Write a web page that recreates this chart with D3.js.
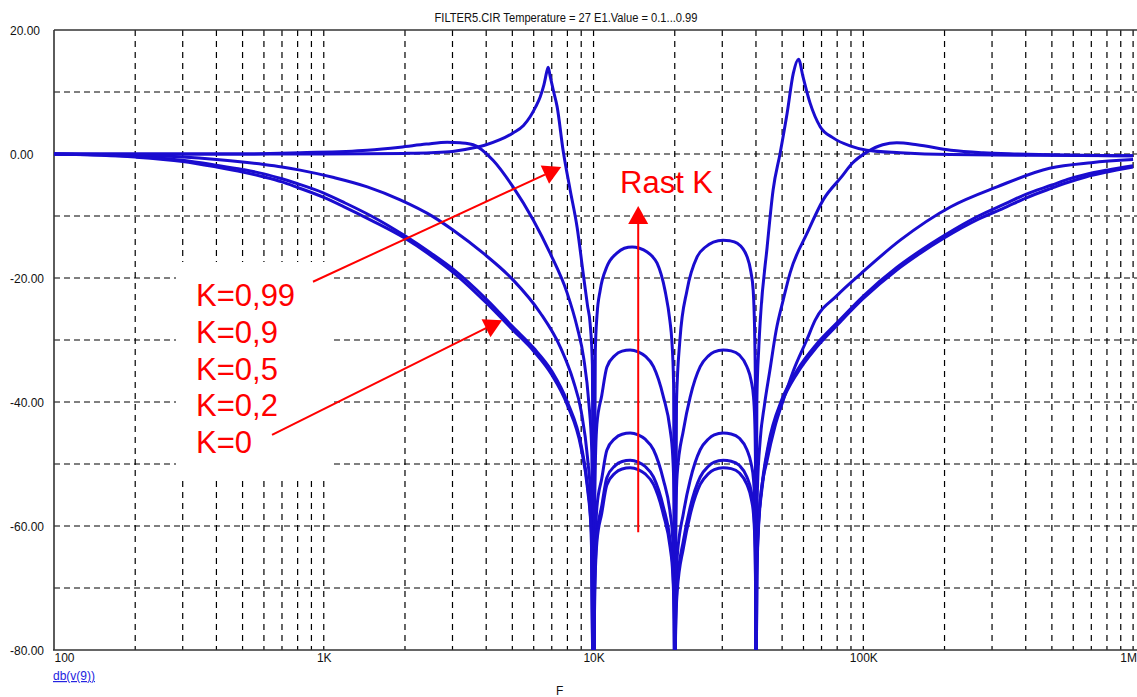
<!DOCTYPE html>
<html><head><meta charset="utf-8">
<script src="https://cdn.jsdelivr.net/npm/d3@7"></script>
<style>
body{margin:0;background:#fff}
svg{display:block}
text{font-family:"Liberation Sans",Arial,sans-serif}
</style>
</head><body>
<svg id="chart" width="1137" height="697"></svg>
<script>
// ---------------- data ----------------
const titleText = "FILTER5.CIR Temperature = 27 E1.Value = 0.1...0.99";
const yTicks = [20, 0, -20, -40, -60, -80];
const yTickLabels = ["20.00", "0.00", "-20.00", "-40.00", "-60.00", "-80.00"];
const xTicks = [100, 1e3, 1e4, 1e5, 1e6];
const xTickLabels = ["100", "1K", "10K", "100K", "1M"];
const seriesNames = ["K=0,99", "K=0,9", "K=0,5", "K=0,2", "K=0"];
const yAxisName = "db(v(9))";
const xAxisName = "F";
const arrowText = "Rast K";

// [frequency Hz, dB]
const k099 = [[100,0],[300,0],[1000,0],[2000,0.1],[2500,0.2],[3000,0.4],[3600,1.0],[4000,1.5],[4500,2.3],[5030,3.4],[5500,4.6],[5820,6.0],[6100,7.6],[6340,9.2],[6550,11.2],[6730,13.5],[6790,14.0],[6900,12.6],[7100,10.2],[7330,7.6],[7710,0.6],[8190,-5.8],[8690,-11.8],[9150,-19.2],[9500,-24.5],[9710,-27.3],[9900,-34],[10000,-90],
  [10150,-32],[10300,-26],[10580,-22],[11200,-18.2],[12200,-16],[13000,-15.2],[13900,-15],[14800,-15.2],[15800,-15.8],[16500,-16.5],[17200,-17.6],[18400,-22],[19200,-27],[19500,-30],[19800,-37],[20000,-90],
  [20300,-40],[20900,-30],[22200,-22],[24200,-16.6],[26000,-15],[27800,-14.2],[30200,-13.9],[32000,-14.0],[34100,-14.4],[37100,-16.6],[38300,-19],[39060,-22],[39600,-30],[39850,-40],[40000,-90],
  [40300,-40],[41000,-31],[41500,-26.8],[44000,-15],[46300,-5.8],[49200,0.2],[52200,6.6],[55000,13],[57500,15.3],[59800,12.4],[63500,8.2],[69200,4.4],[77300,2.6],[89300,1.3],[103000,0.6],[137000,0.2],[210000,-0.1],[400000,-0.2],[1000000,-0.3]];

const k09 = [[100,0],[500,0],[817,0.2],[1450,0.6],[1920,1.1],[2400,1.6],[2870,1.9],[3200,1.8],[3580,1.5],[4240,-1],[5030,-5.3],[5970,-10.6],[6900,-16],[7980,-22.4],[8690,-27.9],[9200,-33],[9600,-40],[9850,-48],[10000,-90],
  [10100,-55],[10290,-43.6],[10730,-38.9],[11200,-34.4],[12000,-32.5],[12760,-31.8],[13670,-31.6],[14640,-31.9],[15540,-32.6],[16680,-34.3],[18160,-39.2],[19230,-44.5],[19650,-48.6],[19900,-56],[20000,-90],
  [20150,-60],[20420,-51.6],[21540,-44.5],[22810,-39.2],[24850,-34.3],[26600,-32.6],[28010,-31.9],[30230,-31.6],[32370,-31.75],[34650,-32.4],[37030,-34.3],[38410,-36.6],[39180,-39.2],[39680,-44.6],[39900,-55],[40000,-90],
  [40200,-62],[40500,-54],[41500,-46],[43000,-40.5],[45000,-35],[47500,-28.5],[50500,-23.5],[53500,-19.2],[62000,-12.7],[71000,-7.4],[83000,-3.7],[91000,-1.5],[103000,0.3],[118000,1.5],[133000,1.8],[158000,1.5],[211000,0.6],[278000,0.2],[373000,0],[1000000,-0.3]];

const k05 = [[100,0],[200,-0.2],[300,-0.5],[400,-0.9],[500,-1.3],[600,-1.7],[700,-2.1],[817,-2.6],[1090,-3.8],[1450,-5.3],[1920,-7.4],[2540,-10.1],[3020,-12.3],[3900,-16],[5030,-20.3],[6340,-25.6],[7520,-31.1],[8400,-36.5],[9000,-41.5],[9500,-49],[9800,-57],[10000,-90],
  [10100,-66],[10290,-57],[10730,-52.3],[11200,-47.8],[12000,-45.9],[12760,-45.2],[13670,-45],[14640,-45.3],[15540,-46],[16680,-47.7],[18160,-52.6],[19230,-57.9],[19650,-62],[19900,-70],[20000,-90],
  [20150,-72],[20420,-65],[21540,-57.9],[22810,-52.6],[24850,-47.7],[26600,-46],[28010,-45.3],[30230,-45],[32370,-45.15],[34650,-45.8],[37030,-47.7],[38410,-50],[39180,-52.6],[39680,-58],[39900,-68],[40000,-90],
  [40300,-66],[40800,-60],[41500,-55.8],[44000,-49.4],[47000,-44],[50500,-39.7],[55000,-35],[61700,-30],[66300,-26.8],[80000,-22.8],[98500,-19.2],[137000,-13.9],[211000,-8.5],[313000,-5.3],[490000,-2.3],[700000,-1.4],[1000000,-0.9]];

const k02 = [[100,0],[200,-0.4],[300,-1.0],[400,-1.8],[500,-2.5],[600,-3.2],[700,-4.0],[800,-4.8],[1000,-6.3],[1200,-7.9],[1500,-10.0],[2000,-13.2],[2500,-16.0],[3000,-18.5],[4000,-23.4],[5000,-27.8],[6000,-31.3],[7000,-35],[8000,-40],[9000,-47],[9500,-53.5],[9800,-60.5],[10000,-90],
  [10100,-70],[10290,-61.4],[10730,-56.7],[11200,-52.2],[12000,-50.3],[12760,-49.6],[13670,-49.4],[14640,-49.7],[15540,-50.4],[16680,-52.1],[18160,-57],[19230,-62.3],[19650,-66.4],[19900,-74],[20000,-90],
  [20150,-76],[20420,-69.4],[21540,-62.3],[22810,-57],[24850,-52.1],[26600,-50.4],[28010,-49.7],[30230,-49.4],[32370,-49.55],[34650,-50.2],[37030,-52.1],[38410,-54.4],[39180,-57],[39680,-62.4],[39900,-72],[40000,-90],
  [40300,-68],[40800,-60.5],[42100,-53.5],[44400,-47],[50000,-39.5],[57000,-34.8],[66700,-30.8],[80000,-27.2],[100000,-22.9],[133000,-18.3],[160000,-15.8],[200000,-13.1],[267000,-10.0],[333000,-8.1],[400000,-6.5],[500000,-5.0],[571000,-4.1],[667000,-3.3],[800000,-2.6],[1000000,-1.9]];

const k0 = [[100,0],[150,-0.2],[200,-0.5],[300,-1.2],[400,-2.1],[500,-2.9],[600,-3.7],[700,-4.5],[800,-5.4],[1000,-7.0],[1200,-8.6],[1500,-10.7],[2000,-13.6],[2500,-16.4],[3000,-19.0],[4000,-24],[5000,-28.3],[6000,-31.8],[7000,-35.6],[8000,-40.5],[9000,-47.5],[9500,-54],[9800,-61],[10000,-90],
  [10100,-71],[10290,-62.6],[10730,-57.9],[11200,-53.4],[12000,-51.5],[12760,-50.8],[13670,-50.6],[14640,-50.9],[15540,-51.6],[16680,-53.3],[18160,-58.2],[19230,-63.5],[19650,-67.6],[19900,-75],[20000,-90],
  [20150,-77],[20420,-70.6],[21540,-63.5],[22810,-58.2],[24850,-53.3],[26600,-51.6],[28010,-50.9],[30230,-50.6],[32370,-50.75],[34650,-51.4],[37030,-53.3],[38410,-55.6],[39180,-58.2],[39680,-63.6],[39900,-73],[40000,-90],
  [40300,-69],[40800,-61],[42100,-54],[44400,-47.5],[50000,-40],[57000,-35.3],[66700,-31.3],[80000,-27.6],[100000,-23.3],[133000,-18.7],[160000,-16.2],[200000,-13.5],[267000,-10.5],[333000,-8.7],[400000,-7.1],[500000,-5.5],[571000,-4.6],[667000,-3.7],[800000,-2.9],[1000000,-2.1]];

const allSeries = [k099, k09, k05, k02, k0];

// ---------------- layout ----------------
(function () {
const W = 1137, H = 697;
const pLeft = 54, pTop = 30, pBottom = 650, xEnd = 1133.1, pRight = 1137;
const svg = d3.select("#chart");
svg.append("rect").attr("width", W).attr("height", H).attr("fill", "#fff");

const x = d3.scaleLog().domain([100, 1e6]).range([pLeft, xEnd]);
const y = d3.scaleLinear().domain([-80, 20]).range([pBottom, pTop]);

// grid
const gridG = svg.append("g");
const vGrid = [];
for (let d = 100; d < 1e6; d *= 10) for (let m = 1; m <= 9; m++) vGrid.push(d * m);
vGrid.push(1e6);
gridG.selectAll("line.v").data(vGrid.filter(v => v > 100)).join("line")
  .attr("x1", d => x(d)).attr("x2", d => x(d))
  .attr("y1", pTop).attr("y2", pBottom)
  .attr("stroke", "#000").attr("stroke-width", 1.2).attr("stroke-dasharray", "6,5");
gridG.selectAll("line.h").data(d3.range(-70, 20, 10)).join("line")
  .attr("x1", pLeft).attr("x2", pRight)
  .attr("y1", d => y(d)).attr("y2", d => y(d))
  .attr("stroke", "#000").attr("stroke-width", 1.2).attr("stroke-dasharray", "6,4");

// white backing of annotation text block
svg.append("rect").attr("x", 176).attr("y", 262).attr("width", 156).attr("height", 216).attr("fill", "#fff");

// frame
const frame = svg.append("g").attr("stroke", "#333").attr("stroke-width", 1.6);
frame.append("line").attr("x1", pLeft).attr("x2", pLeft).attr("y1", pTop).attr("y2", pBottom);
frame.append("line").attr("x1", pLeft).attr("x2", pRight).attr("y1", y(20)).attr("y2", y(20));
frame.append("line").attr("x1", pLeft - 1).attr("x2", pRight).attr("y1", y(-80)).attr("y2", y(-80));

// axes labels (via d3 axes, restyled)
const yAxis = d3.axisLeft(y).tickValues(yTicks).tickFormat((d, i) => yTickLabels[i]).tickSize(0);
const yg = svg.append("g").attr("transform", `translate(10,0)`).call(yAxis);
yg.select(".domain").remove();
yg.selectAll("text").attr("x", 0).attr("dy", "0.38em").attr("text-anchor", "start")
  .attr("font-size", 12).attr("fill", "#111").attr("font-family", '"Liberation Sans",Arial,sans-serif');

const xAxis = d3.axisBottom(x).tickValues(xTicks).tickFormat((d, i) => xTickLabels[i]).tickSize(0);
const xg = svg.append("g").attr("transform", `translate(0,${pBottom})`).call(xAxis);
xg.select(".domain").remove();
xg.selectAll("text").attr("y", 0).attr("dy", "12px")
  .attr("text-anchor", (d, i) => i === 0 ? "start" : (i === xTicks.length - 1 ? "end" : "middle"))
  .attr("x", (d, i) => i === xTicks.length - 1 ? pRight - xEnd - 0.5 : 0)
  .attr("font-size", 12).attr("fill", "#111").attr("font-family", '"Liberation Sans",Arial,sans-serif');

// title
svg.append("text").attr("x", 566).attr("y", 22).attr("text-anchor", "middle")
  .attr("font-size", 12).attr("textLength", 263).attr("lengthAdjust", "spacingAndGlyphs")
  .attr("fill", "#111").text(titleText);

// axis names
svg.append("text").attr("x", 53).attr("y", 680).attr("font-size", 12)
  .attr("fill", "#2323e0").attr("text-decoration", "underline").text(yAxisName);
svg.append("text").attr("x", 556).attr("y", 695).attr("font-size", 12).attr("fill", "#111").text(xAxisName);

// curves
svg.append("clipPath").attr("id", "clip").append("rect")
  .attr("x", pLeft).attr("y", pTop).attr("width", pRight - pLeft).attr("height", pBottom - pTop);
const line = d3.line().x(d => x(d[0])).y(d => y(d[1])).curve(d3.curveMonotoneX);
svg.append("g").attr("clip-path", "url(#clip)")
  .selectAll("path").data(allSeries).join("path")
  .attr("d", line).attr("fill", "none").attr("stroke", "#1a0ccf")
  .attr("stroke-width", 3).attr("stroke-linejoin", "round");

// annotations
const red = "#ff0000";
const ann = svg.append("g");
seriesNames.forEach((s, i) => {
  ann.append("text").attr("x", 196).attr("y", 306 + i * 36.8).attr("font-size", 31).attr("fill", red).text(s);
});
ann.append("text").attr("x", 620).attr("y", 193).attr("font-size", 31).attr("fill", red).text(arrowText);

function arrow(p0, p1) {
  const x0 = x(p0[0]), y0 = y(p0[1]), x1 = x(p1[0]), y1 = y(p1[1]);
  const dx = x1 - x0, dy = y1 - y0, L = Math.hypot(dx, dy);
  const ux = dx / L, uy = dy / L, hl = 18, hw = 10;
  const bx = x1 - ux * hl, by = y1 - uy * hl;
  ann.append("line").attr("x1", x0).attr("y1", y0).attr("x2", bx).attr("y2", by)
    .attr("stroke", red).attr("stroke-width", 2);
  ann.append("path").attr("d",
    `M${x1},${y1}L${bx - uy * hw},${by + ux * hw}L${bx + uy * hw},${by - ux * hw}Z`).attr("fill", red);
}
arrow([912, -20.6], [7590, -2.1]);
arrow([643, -45.3], [4583, -26.8]);
arrow([14640, -61], [14640, -8.4]);
})();
</script>
</body></html>
